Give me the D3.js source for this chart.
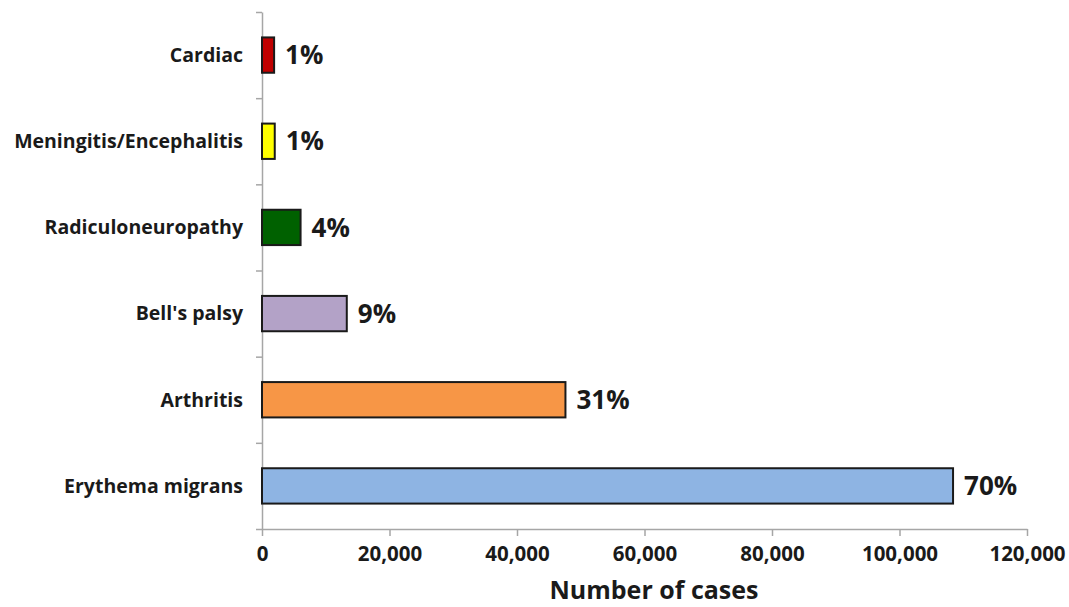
<!DOCTYPE html>
<html>
<head>
<meta charset="utf-8">
<script src="https://cdn.jsdelivr.net/npm/d3@7"></script>
<style>
  body { margin: 0; background: #fff; }
  text { font-family: "Open Sans", sans-serif; font-weight: bold; fill: #1a1a1a; }
</style>
</head>
<body>
<script>
const w = 1069;
const h = 607;

const categories = ["Cardiac", "Meningitis/Encephalitis", "Radiculoneuropathy", "Bell's palsy", "Arthritis", "Erythema migrans"];
const cases = [1900, 2000, 6050, 13300, 47600, 108400];
const percents = ["1%", "1%", "4%", "9%", "31%", "70%"];
const colors = ["#c00000", "#ffff00", "#006100", "#b3a2c7", "#f79646", "#8eb4e3"];
const xTicks = [0, 20000, 40000, 60000, 80000, 100000, 120000];

const plotLeft = 262, plotRight = 1027, plotTop = 12, plotBottom = 529;

const xScale = d3.scaleLinear().domain([0, 120000]).range([plotLeft, plotRight]);
const yScale = d3.scaleBand().domain(categories).range([plotTop, plotBottom]).paddingInner(0.59).paddingOuter(0.295);
const yEdges = d3.scaleLinear().domain([0, categories.length]).range([plotTop, plotBottom]);

const svg = d3.select("body").append("svg").attr("width", w).attr("height", h);

// y axis with ticks at category boundaries
const yAxisG = svg.append("g")
   .attr("transform", "translate(" + plotLeft + ",0)")
   .call(d3.axisLeft(yEdges).ticks(categories.length).tickFormat("").tickSize(6).tickSizeOuter(0));
yAxisG.selectAll("path, line").attr("stroke", "#a6a6a6").attr("stroke-width", 1.5);

// x axis
const xAxisG = svg.append("g")
   .attr("transform", "translate(0," + plotBottom + ")")
   .call(d3.axisBottom(xScale).tickValues(xTicks).tickFormat(d3.format(",")).tickSize(7).tickSizeOuter(0).tickPadding(10));
xAxisG.select(".domain").attr("stroke", "#a6a6a6").attr("stroke-width", 1.5);
xAxisG.selectAll("line").attr("stroke", "#a6a6a6").attr("stroke-width", 1.5);
xAxisG.selectAll("text").style("font-size", "20.5px").style("font-family", "'Open Sans', sans-serif").attr("fill", "#1a1a1a");

// category labels
svg.selectAll(".cat")
   .data(categories)
   .enter()
   .append("text")
   .attr("class", "cat")
   .attr("x", 243)
   .attr("y", d => yScale(d) + yScale.bandwidth() / 2)
   .attr("dy", "0.35em")
   .attr("text-anchor", "end")
   .style("font-size", "19.5px")
   .text(d => d);

// bars
svg.selectAll("rect.bar")
   .data(categories)
   .enter()
   .append("rect")
   .attr("class", "bar")
   .attr("x", xScale(0))
   .attr("y", d => yScale(d))
   .attr("width", (d, i) => xScale(cases[i]) - xScale(0))
   .attr("height", yScale.bandwidth())
   .attr("fill", (d, i) => colors[i])
   .attr("stroke", "#1a1a1a")
   .attr("stroke-width", 2);

// percent labels
svg.selectAll(".pct")
   .data(categories)
   .enter()
   .append("text")
   .attr("class", "pct")
   .attr("x", (d, i) => xScale(cases[i]) + 11)
   .attr("y", d => yScale(d) + yScale.bandwidth() / 2)
   .attr("dy", "0.35em")
   .style("font-size", "26px")
   .text((d, i) => percents[i]);

// axis title
svg.append("text")
   .attr("x", 654)
   .attr("y", 599)
   .attr("text-anchor", "middle")
   .style("font-size", "25px")
   .text("Number of cases");
</script>
</body>
</html>
